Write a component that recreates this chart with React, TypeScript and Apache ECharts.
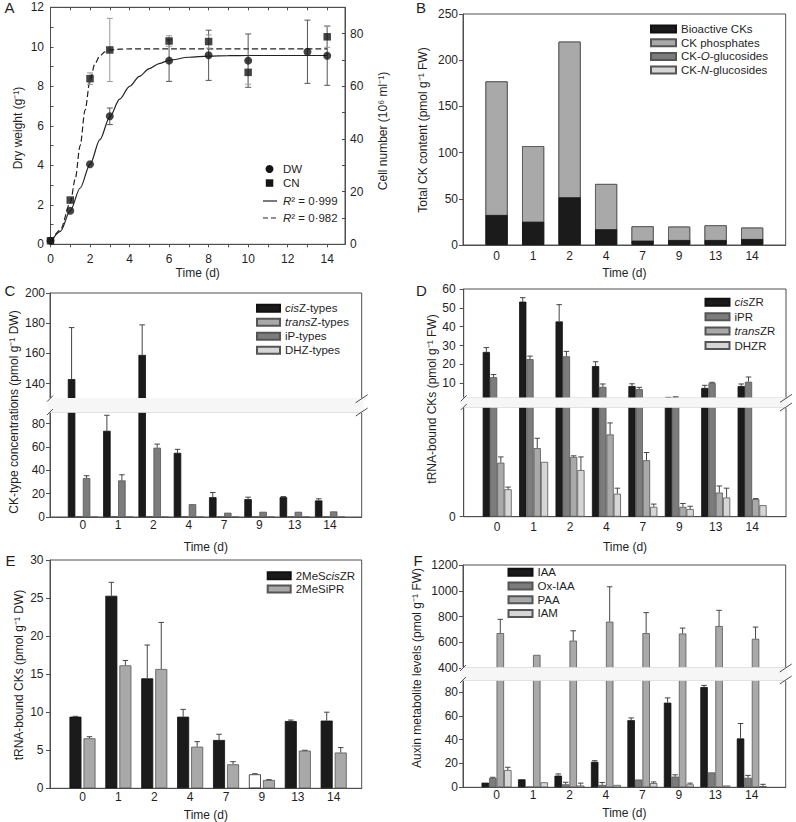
import React, { useEffect, useRef } from 'react';
import * as echarts from 'echarts';

// ---------- shared categories ----------
const days = ['0', '1', '2', '4', '7', '9', '13', '14'];

// ---------- Panel A ----------
const aTimeDW = [0, 1, 2, 3, 6, 8, 10, 13, 14];
const aDW = [0.18, 1.7, 4.05, 6.48, 9.3, 9.57, 9.3, 9.75, 9.55];
const aDWErr = [0, 0, 0, 0.42, 1.05, 1.27, 1.35, 1.6, 1.5];
const aTimeCN = [0, 1, 2, 3, 6, 8, 10, 14];
const aCN = [1.35, 16.8, 62.9, 73.8, 77.2, 77.0, 65.3, 78.8];
const aCNErr = [0, 0, 2.2, 12, 2, 2.5, 4.5, 4];
const aFitDWTime = [0, 0.5, 1, 1.5, 2, 2.5, 3, 3.5, 4, 4.5, 5, 5.5, 6, 7, 8, 9, 10, 12, 14];
const aFitDW = [0.08, 0.65, 1.7, 2.85, 4.05, 5.3, 6.45, 7.35, 8.0, 8.5, 8.9, 9.15, 9.32, 9.47, 9.53, 9.55, 9.56, 9.56, 9.56];
const aFitCNTime = [0, 0.5, 1, 1.25, 1.5, 1.75, 2, 2.25, 2.5, 2.75, 3, 3.5, 4, 6, 10, 14];
const aFitCN = [0.75, 5.5, 15.75, 24.75, 37.5, 51, 62.25, 68.6, 71.6, 73.1, 73.8, 74.1, 74.2, 74.2, 74.2, 74.2];

// ---------- Panel B ----------
const bBioactive = [32.5, 25.2, 51.6, 17, 4.7, 5.4, 5.4, 6.5];
const bPhosphates = [144.5, 81.8, 168.4, 49, 15.5, 14.4, 15.9, 12.2];
const bOGluc = [0, 0, 0, 0, 0, 0, 0, 0];
const bNGluc = [0, 0, 0, 0, 0, 0, 0, 0];

// ---------- Panel C ----------
const cCisZ = [143, 73.9, 159, 55, 17, 15.3, 17, 14.2];
const cCisZErr = [34.1, 13.3, 19.9, 3, 4, 1.7, 0.5, 1.4];
const cTransZ = [0.8, 0.8, 0.8, 0.8, 0.5, 0.5, 0.5, 0.5];
const cTransZErr = [0, 0, 0, 0, 0, 0, 0, 0];
const cIP = [33.4, 31.4, 59.4, 11, 3.7, 4.5, 4.5, 4.8];
const cIPErr = [2, 4.8, 3.1, 0, 0, 0, 0, 0];
const cDHZ = [0, 0, 0, 0, 0, 0, 0, 0];
const cDHZErr = [0, 0, 0, 0, 0, 0, 0, 0];

// ---------- Panel D ----------
const dCisZR = [26.6, 53.3, 42.8, 19.1, 8.5, 2.3, 7.5, 8.5];
const dCisZRErr = [2.3, 2.1, 8.9, 2.3, 1.2, 0.2, 1.4, 1.1];
const dIPR = [13.2, 22.8, 24.3, 8.1, 6.9, 2.5, 10.1, 10.8];
const dIPRErr = [1.4, 1.6, 2.6, 1.5, 0.9, 0.3, 0.4, 2.5];
const dTransZR = [0.985, 1.25, 1.09, 1.5, 1.03, 0.18, 0.44, 0.32];
const dTransZRErr = [0.105, 0.18, 0.02, 0.21, 0.14, 0.06, 0.12, 0.01];
const dDHZR = [0.5, 1.0, 0.85, 0.42, 0.18, 0.14, 0.35, 0.21];
const dDHZRErr = [0.04, 0, 0.24, 0.1, 0.05, 0.05, 0.17, 0];

// ---------- Panel E ----------
const eMeScisZR = [9.41, 25.3, 14.45, 9.41, 6.35, 1.84, 8.84, 8.9];
const eMeScisZRErr = [0.05, 1.77, 4.38, 0.96, 0.75, 0.08, 0.13, 1.1];
const eMeSiPR = [6.57, 16.16, 15.68, 5.47, 3.15, 1.09, 4.95, 4.7];
const eMeSiPRErr = [0.21, 0.64, 6.12, 0.66, 0.35, 0.05, 0.05, 0.65];

// ---------- Panel F ----------
const fIAA = [3.9, 6.7, 9.8, 21.4, 56.3, 71, 84.1, 41];
const fIAAErr = [0, 0, 1.4, 0.9, 1.9, 4, 1.4, 12.5];
const fOxIAA = [7.8, 0.5, 2.5, 2, 6.5, 9, 12.5, 8];
const fOxIAAErr = [0.6, 0, 1.7, 2, 0, 1.5, 0, 2];
const fPAA = [671, 502, 613, 760, 671, 668, 726, 627];
const fPAAErr = [107, 0, 76, 271, 159, 42, 122, 91];
const fIAM = [14.5, 4.2, 1.5, 2, 3.5, 2.5, 1.5, 1];
const fIAMErr = [2.3, 0, 2, 0, 1, 1, 0, 1.5];

// ---------- styles ----------
const FONT = '"Liberation Sans", Arial, Helvetica, sans-serif';
const TXT = '#1f1f1f';
const AX = '#4f4f4f';
const BLACK = '#1b1b1b';
const DARK = '#7c7c7c';
const MID = '#a9a9a9';
const LIGHT = '#d6d6d6';
const EDGE = '#555555';
const ERR = '#454545';

const RICH: Record<string, string> = {
  'cisZ-types': '{it|cis}Z-types',
  'transZ-types': '{it|trans}Z-types',
  'CK-O-glucosides': 'CK-{it|O}-glucosides',
  'CK-N-glucosides': 'CK-{it|N}-glucosides',
  cisZR: '{it|cis}ZR',
  transZR: '{it|trans}ZR',
  '2MeScisZR': '2MeS{it|cis}ZR',
};

const idx = days.map((_, i) => i);
const zip = (xs: number[], ys: number[]) => xs.map((x, i) => [x, ys[i]]);
const range = (a: number, b: number, s: number) => {
  const r: number[] = [];
  for (let v = a; v <= b + 1e-9; v += s) r.push(v);
  return r;
};

function grid(left: number, top: number, width: number, height: number) {
  return { left, top, width, height, show: true, borderColor: AX, borderWidth: 1, backgroundColor: 'transparent' };
}

function xCat(gridIndex: number, min: number, max: number, margin: number | null) {
  return {
    type: 'value', gridIndex, min, max,
    axisLine: { show: margin !== null, onZero: false, lineStyle: { color: AX } },
    axisTick: { show: false },
    splitLine: { show: false },
    axisLabel: margin === null ? { show: false } : {
      show: true, customValues: idx, margin, fontSize: 12, color: TXT, fontFamily: FONT,
      formatter: (v: number) => days[Math.round(v)] ?? '',
    },
  };
}

function yVal(gridIndex: number, min: number, max: number, labels: number[], margin: number, ticks?: number[], extra: any = {}) {
  return {
    type: 'value', gridIndex, min, max,
    axisLine: { show: true, onZero: false, lineStyle: { color: AX } },
    axisTick: { show: true, length: 4, lineStyle: { color: AX }, customValues: ticks ?? labels },
    axisLabel: { show: true, customValues: labels, margin, fontSize: 12, color: TXT, fontFamily: FONT, formatter: (v: number) => String(v) },
    splitLine: { show: false },
    ...extra,
  };
}

function errSeries(xi: number, yi: number, xs: number[], lo: number[], hi: number[], offset: number, cap: number, color: string, both: boolean) {
  return {
    type: 'custom', xAxisIndex: xi, yAxisIndex: yi, silent: true, z: 4,
    encode: { x: 0, y: [1, 2] },
    data: xs.map((x, i) => [x, lo[i], hi[i]]),
    renderItem: (_p: any, api: any) => {
      const a = api.coord([api.value(0), api.value(1)]);
      const b = api.coord([api.value(0), api.value(2)]);
      const x = a[0] + offset;
      const st = { stroke: color, lineWidth: 1, fill: 'none' };
      const ch: any[] = [
        { type: 'line', shape: { x1: x, y1: a[1], x2: x, y2: b[1] }, style: st },
        { type: 'line', shape: { x1: x - cap / 2, y1: b[1], x2: x + cap / 2, y2: b[1] }, style: st },
      ];
      if (both) ch.push({ type: 'line', shape: { x1: x - cap / 2, y1: a[1], x2: x + cap / 2, y2: a[1] }, style: st });
      return { type: 'group', children: ch };
    },
  };
}

function barErr(xi: number, yi: number, vals: number[], errs: number[], slot: number, n: number, w: number, gapPx: number, keep: (v: number) => boolean) {
  const xs: number[] = [], lo: number[] = [], hi: number[] = [];
  vals.forEach((v, i) => {
    if (errs[i] > 0 && keep(v)) { xs.push(i); lo.push(v); hi.push(v + errs[i]); }
  });
  const offset = (slot - (n - 1) / 2) * (w + gapPx);
  return errSeries(xi, yi, xs, lo, hi, offset, 5.5, ERR, false);
}

function bar(name: string, xi: number, yi: number, vals: (number | null)[], color: string, w: number, gap: string, extra: any = {}, itemFn?: (i: number) => any) {
  return {
    type: 'bar', name, xAxisIndex: xi, yAxisIndex: yi,
    data: vals.map((v, i) => (itemFn && itemFn(i)) ? { value: [i, v], itemStyle: itemFn(i) } : [i, v]),
    barWidth: w, barGap: gap, clip: true,
    itemStyle: { color, borderColor: color === BLACK ? '#111111' : EDGE, borderWidth: 0.8 },
    emphasis: { disabled: true },
    ...extra,
  };
}

function brokenPanel(names: string[], colors: string[], vals: number[][], errs: number[][], xiU: number, yiU: number, xiL: number, yiL: number, split: number, w: number) {
  const out: any[] = [];
  const n = names.length;
  names.forEach((nm, k) => {
    out.push(bar(nm, xiU, yiU, vals[k].map((v) => (v > split ? v : null)), colors[k], w, '0%'));
    out.push(bar(nm, xiL, yiL, vals[k], colors[k], w, '0%'));
  });
  names.forEach((_nm, k) => {
    out.push(barErr(xiU, yiU, vals[k], errs[k], k, n, w, 0, (v) => v > split));
    out.push(barErr(xiL, yiL, vals[k], errs[k], k, n, w, 0, (v) => v <= split));
  });
  return out;
}

function legendCfg(names: string[], left: number, top: number, itemWidth: number, itemGap: number) {
  return {
    data: names, left, top, orient: 'vertical', padding: 0, itemWidth, itemHeight: 7, itemGap,
    icon: 'rect', selectedMode: false,
    formatter: (n: string) => RICH[n] ?? n,
    textStyle: {
      fontSize: 11.5, lineHeight: 12, color: TXT, fontFamily: FONT,
      rich: { it: { fontStyle: 'italic', fontSize: 11.5, lineHeight: 12, color: TXT, fontFamily: FONT } },
    },
  };
}

function txt(x: number, y: number, text: string, size = 12, rot = 0, extraStyle: any = {}) {
  return {
    type: 'text', x, y, z: 110, rotation: rot, silent: true,
    style: { text, fontSize: size, fontFamily: FONT, fill: TXT, align: 'center', verticalAlign: 'middle', ...extraStyle },
  };
}

function breakGfx(left: number, right: number, yTop: number, yBot: number) {
  const line = (x1: number, y1: number, x2: number, y2: number) => ({
    type: 'line', z: 101, silent: true, shape: { x1, y1, x2, y2 }, style: { stroke: AX, lineWidth: 1 },
  });
  return [
    { type: 'rect', z: 100, silent: true, shape: { x: left - 2, y: yTop - 0.7, width: right - left + 4, height: yBot - yTop + 1.4 }, style: { fill: '#f6f6f6' } },
    line(left - 3, yTop + 3, left + 3, yTop - 3),
    line(left - 3, yBot + 3, left + 3, yBot - 3),
    line(right - 6, yTop + 4, right + 6, yTop - 4),
    line(right - 6, yBot + 4, right + 6, yBot - 4),
  ];
}

function buildOption() {
  const V = (a: number[], e: number[], s: number) => a.map((v, i) => v + s * e[i]);

  const series: any[] = [];
  // ---- A ----
  const dwKeep = (_: number, i: number) => aDWErr[i] > 0;
  const cnKeep = (_: number, i: number) => aCNErr[i] > 0;
  series.push(errSeries(0, 0, aTimeDW.filter(dwKeep), V(aDW, aDWErr, -1).filter(dwKeep), V(aDW, aDWErr, 1).filter(dwKeep), 0, 6, '#555555', true));
  series.push(errSeries(0, 1, aTimeCN.filter(cnKeep), V(aCN, aCNErr, -1).filter(cnKeep), V(aCN, aCNErr, 1).filter(cnKeep), 0, 6, '#999999', true));
  series.push({
    type: 'line', name: 'fitDW', xAxisIndex: 0, yAxisIndex: 0, data: zip(aFitDWTime, aFitDW),
    symbol: 'none', smooth: 0.3, smoothMonotone: 'x', z: 3, silent: true,
    lineStyle: { color: '#222222', width: 1.2 }, itemStyle: { color: '#222222' },
  });
  series.push({
    type: 'line', name: 'fitCN', xAxisIndex: 0, yAxisIndex: 1, data: zip(aFitCNTime, aFitCN),
    symbol: 'none', smooth: 0.3, smoothMonotone: 'x', z: 3, silent: true,
    lineStyle: { color: '#222222', width: 1.2, type: [6, 3] }, itemStyle: { color: '#222222' },
  });
  series.push({
    type: 'scatter', name: 'DW', xAxisIndex: 0, yAxisIndex: 0, data: zip(aTimeDW, aDW),
    symbol: 'circle', symbolSize: 8, z: 5, itemStyle: { color: '#151515' },
  });
  series.push({
    type: 'scatter', name: 'CN', xAxisIndex: 0, yAxisIndex: 1, data: zip(aTimeCN, aCN),
    symbol: 'rect', symbolSize: 7.5, z: 6, itemStyle: { color: '#151515' },
  });

  // ---- B (stacked: each layer drawn as its cumulative height, top layers first) ----
  const bNames = ['Bioactive CKs', 'CK phosphates', 'CK-O-glucosides', 'CK-N-glucosides'];
  const bVals = [bBioactive, bPhosphates, bOGluc, bNGluc];
  const bCols = [BLACK, MID, DARK, LIGHT];
  const cum = bVals.map((_, k) => bBioactive.map((_v, i) => bVals.slice(0, k + 1).reduce((s, arr) => s + arr[i], 0)));
  for (let k = bNames.length - 1; k >= 0; k--) {
    series.push(bar(bNames[k], 2, 2, cum[k], bCols[k], 22, '-100%'));
  }

  // ---- C ----
  series.push(...brokenPanel(
    ['cisZ-types', 'transZ-types', 'iP-types', 'DHZ-types'], [BLACK, MID, DARK, LIGHT],
    [cCisZ, cTransZ, cIP, cDHZ], [cCisZErr, cTransZErr, cIPErr, cDHZErr], 3, 3, 4, 4, 90, 7.5));

  // ---- D ----
  series.push(...brokenPanel(
    ['cisZR', 'iPR', 'transZR', 'DHZR'], [BLACK, DARK, MID, LIGHT],
    [dCisZR, dIPR, dTransZR, dDHZR], [dCisZRErr, dIPRErr, dTransZRErr, dDHZRErr], 5, 5, 6, 6, 2, 7.25));

  // ---- E ----
  series.push(bar('2MeScisZR', 7, 7, eMeScisZR, BLACK, 12, '17%', {}, (i) => (i === 5 ? { color: '#ffffff', borderColor: '#222222' } : null)));
  series.push(bar('2MeSiPR', 7, 7, eMeSiPR, MID, 12, '17%'));
  series.push(barErr(7, 7, eMeScisZR, eMeScisZRErr, 0, 2, 12, 2, () => true));
  series.push(barErr(7, 7, eMeSiPR, eMeSiPRErr, 1, 2, 12, 2, () => true));

  // ---- F ----
  series.push(...brokenPanel(
    ['IAA', 'Ox-IAA', 'PAA', 'IAM'], [BLACK, DARK, MID, LIGHT],
    [fIAA, fOxIAA, fPAA, fIAM], [fIAAErr, fOxIAAErr, fPAAErr, fIAMErr], 8, 8, 9, 9, 90, 7.5));

  const richIt = { it: { fontStyle: 'italic', fontSize: 11.5, fontFamily: FONT, fill: TXT } };
  const graphics: any[] = [
    // panel letters
    txt(9.5, 7.7, 'A', 15), txt(421, 7.5, 'B', 15),
    txt(10, 290.3, 'C', 15), txt(421.3, 290, 'D', 15),
    txt(10.5, 560.7, 'E', 15), txt(418, 560, 'F', 15),
    // x names
    txt(197.7, 272.5, 'Time (d)'), txt(624.4, 272.5, 'Time (d)'),
    txt(205.9, 546.7, 'Time (d)'), txt(625, 546.7, 'Time (d)'),
    txt(205.9, 815, 'Time (d)'), txt(624.4, 813, 'Time (d)'),
    // y names
    txt(18, 128, 'Dry weight (g⁻¹)', 12, Math.PI / 2),
    txt(383, 131, 'Cell number (10⁶ ml⁻¹)', 12, Math.PI / 2),
    txt(423, 130, 'Total CK content (pmol g⁻¹ FW)', 12, Math.PI / 2),
    txt(14, 412, 'CK-type concentrations (pmol g⁻¹ DW)', 12, Math.PI / 2),
    txt(432, 399, 'tRNA-bound CKs (pmol g⁻¹ FW)', 12, Math.PI / 2),
    txt(19, 675, 'tRNA-bound CKs (pmol g⁻¹ DW)', 12, Math.PI / 2),
    txt(417, 668, 'Auxin metabolite levels (pmol g⁻¹ FW)', 12, Math.PI / 2),
    // axis breaks
    ...breakGfx(50, 361.7, 398.7, 412),
    ...breakGfx(463.7, 786, 398.3, 407),
    ...breakGfx(463, 785.7, 668, 680),
    // legend of panel A
    { type: 'circle', z: 110, silent: true, shape: { cx: 269.5, cy: 169, r: 4 }, style: { fill: '#151515' } },
    { type: 'rect', z: 110, silent: true, shape: { x: 265.8, y: 179.3, width: 7.5, height: 7.5 }, style: { fill: '#151515' } },
    { type: 'line', z: 110, silent: true, shape: { x1: 263, y1: 201, x2: 277, y2: 201 }, style: { stroke: '#222222', lineWidth: 1.2 } },
    { type: 'line', z: 110, silent: true, shape: { x1: 263, y1: 218, x2: 277, y2: 218 }, style: { stroke: '#222222', lineWidth: 1.2, lineDash: [5, 3] } },
    txt(283, 169, 'DW', 11.5, 0, { align: 'left' }),
    txt(283, 183, 'CN', 11.5, 0, { align: 'left' }),
    txt(283, 201, '{it|R}² = 0·999', 11.5, 0, { align: 'left', rich: richIt }),
    txt(283, 218, '{it|R}² = 0·982', 11.5, 0, { align: 'left', rich: richIt }),
  ];

  return {
    animation: false,
    backgroundColor: '#ffffff',
    textStyle: { fontFamily: FONT },
    grid: [
      grid(50.5, 7.3, 294.5, 237),      // A
      grid(463, 14, 322.7, 231),        // B
      grid(50, 293, 311.7, 105.7),      // C upper
      grid(50, 412, 311.7, 105),        // C lower
      grid(463.7, 289, 322.3, 109.3),   // D upper
      grid(463.7, 407, 322.3, 109.7),   // D lower
      grid(50, 560, 311.7, 228.3),      // E
      grid(463, 565, 322.7, 103),       // F upper
      grid(463, 680, 322.7, 107.3),     // F lower
    ],
    xAxis: [
      {
        type: 'value', gridIndex: 0, min: 0, max: 14.9,
        axisLine: { onZero: false, lineStyle: { color: AX } },
        axisTick: { show: true, length: 3, customValues: range(0, 14, 1), lineStyle: { color: AX } },
        axisLabel: { customValues: range(0, 14, 2), margin: 9, fontSize: 12, color: TXT, fontFamily: FONT },
        splitLine: { show: false },
      },
      {
        type: 'value', gridIndex: 0, position: 'top', min: 0, max: 14.9,
        axisLine: { onZero: false, lineStyle: { color: AX } },
        axisTick: { show: true, inside: true, length: 3, customValues: range(0, 14, 1), lineStyle: { color: AX } },
        axisLabel: { show: false },
        splitLine: { show: false },
      },
      xCat(1, -0.92, 7.92, 5),
      xCat(2, -0.93, 7.9, null),
      xCat(3, -0.93, 7.9, 1.5),
      xCat(4, -0.92, 7.93, null),
      xCat(5, -0.92, 7.93, 4),
      xCat(6, -0.905, 7.78, 3),
      xCat(7, -0.92, 7.93, null),
      xCat(8, -0.92, 7.93, 1.5),
    ],
    yAxis: [
      yVal(0, 0, 12, range(0, 12, 2), 6.5, range(0, 12, 1), { axisTick: { show: true, length: 3, inside: true, customValues: range(0, 12, 1), lineStyle: { color: AX } } }),
      yVal(0, 0, 90, range(0, 80, 20), 5, range(0, 90, 10), { position: 'right', axisTick: { show: true, length: 3, inside: true, customValues: range(0, 90, 10), lineStyle: { color: AX } } }),
      yVal(1, 0, 250, range(0, 250, 50), 5),
      yVal(2, 130, 200, range(140, 200, 20), 5),
      yVal(3, 0, 90, range(0, 80, 20), 5),
      yVal(4, 2, 60, range(10, 60, 10), 8),
      yVal(5, 0, 2, [0], 8),
      yVal(6, 0, 30, range(0, 30, 5), 6.5),
      yVal(7, 400, 1200, range(400, 1200, 200), 5),
      yVal(8, 0, 90, range(0, 80, 20), 5),
    ],
    legend: [
      legendCfg(['Bioactive CKs', 'CK phosphates', 'CK-O-glucosides', 'CK-N-glucosides'], 650, 23, 25, 1.7),
      legendCfg(['cisZ-types', 'transZ-types', 'iP-types', 'DHZ-types'], 256, 302.3, 23, 2),
      legendCfg(['cisZR', 'iPR', 'transZR', 'DHZR'], 704.5, 296.3, 24, 2.4),
      legendCfg(['2MeScisZR', '2MeSiPR'], 266.7, 569.7, 23, 1.3),
      legendCfg(['IAA', 'Ox-IAA', 'PAA', 'IAM'], 507.5, 566.3, 24, 1.7),
    ],
    series,
    graphic: { elements: graphics },
  };
}

export default function App() {
  const ref = useRef<HTMLDivElement>(null);
  useEffect(() => {
    const chart = echarts.init(ref.current as HTMLDivElement, null, { renderer: 'svg' });
    chart.setOption(buildOption() as any);
    return () => chart.dispose();
  }, []);
  return (
    <div
      ref={ref}
      style={{ position: 'absolute', left: 0, top: 0, width: 796, height: 822, background: '#ffffff' }}
    />
  );
}
